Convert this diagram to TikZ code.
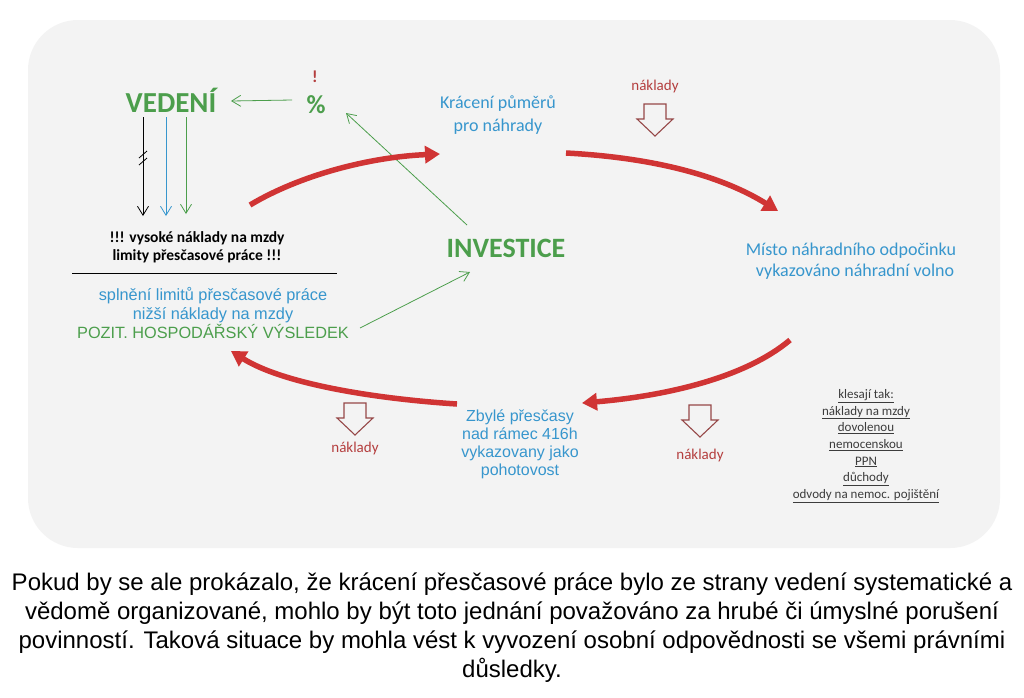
\documentclass[tikz,border=0pt]{standalone}
\usepackage{fontspec}
\setmainfont{Carlito}
\newfontfamily\arialf{Liberation Sans}
\usetikzlibrary{arrows.meta}
\definecolor{vgreen}{RGB}{76,158,76}
\definecolor{vblue}{RGB}{55,150,205}
\definecolor{vred}{RGB}{208,52,52}
\definecolor{nred}{RGB}{180,62,62}
\definecolor{hred}{RGB}{150,72,72}
\definecolor{panel}{RGB}{243,243,243}
\definecolor{listc}{RGB}{60,60,60}
\tikzset{
  redarrow/.style={draw=vred, line width=5.5pt, -{Triangle[length=15pt,width=17pt]}},
  thinarrow/.style={line width=0.8pt, -{Straight Barb[length=9pt,width=11pt]}},
  bluetext/.style={text=vblue, align=center},
  costlbl/.style={text=nred, font=\fontsize{15}{17}\selectfont},
  hollowdown/.pic={\draw[hred, line width=1.1pt, line join=miter]
     (-11,0) -- (11,0) -- (11,15) -- (18,15) -- (0,32) -- (-18,15) -- (-11,15) -- cycle;}
}
\begin{document}
\begin{tikzpicture}[x=1pt,y=-1pt]
\useasboundingbox (0,0) rectangle (1024,697);
\fill[white] (0,0) rectangle (1024,697);
\fill[panel, rounded corners=50pt] (28,20) rectangle (1000,548);

% --- left block
\node[text=vgreen, font=\bfseries\fontsize{29}{30}\selectfont] (ved) at (171,100) {VEDENÍ};
\node[text=nred, font=\bfseries\fontsize{17}{17}\selectfont] (excl) at (315,77) {!};
\node[text=vgreen, font=\bfseries\fontsize{26}{28}\selectfont] (pct) at (316,105) {\%};
\coordinate (g1s) at (292,100); \coordinate (g1e) at (231,101);
\draw[vgreen, thinarrow] (g1s) -- (g1e);

\coordinate (ka) at (143,117); \coordinate (kb) at (143,216);
\coordinate (ma) at (166,117); \coordinate (mb) at (166,216);
\coordinate (za) at (186,117); \coordinate (zb) at (186,214);
\draw[black, thinarrow] (ka) -- (kb);
\draw[vblue, thinarrow] (ma) -- (mb);
\draw[vgreen, thinarrow] (za) -- (zb);
\draw[black, line width=0.8pt] (139,158) -- (147,151) (139,165) -- (147,158);

\node[align=center, font=\bfseries\fontsize{15.5}{18}\selectfont] (vys) at (197,247)
  {!!! vysoké náklady na mzdy\\limity přesčasové práce !!!};
\coordinate (la) at (72,273); \coordinate (lb) at (337,273);
\draw[black, line width=0.9pt] (la) -- (lb);

\node[align=center, font=\arialf\fontsize{16.3}{18.5}\selectfont] (spl) at (213,313)
  {\textcolor{vblue}{splnění limitů přesčasové práce}\\
   \textcolor{vblue}{nižší náklady na mzdy}\\
   \textcolor{vgreen}{POZIT. HOSPODÁŘSKÝ VÝSLEDEK}};

% --- centre
\node[text=vgreen, font=\bfseries\fontsize{28}{30}\selectfont] (inv) at (506,248) {INVESTICE};
\coordinate (g2s) at (360,328); \coordinate (g2e) at (470,272);
\coordinate (g3s) at (467,225); \coordinate (g3e) at (346,113);
\draw[vgreen, thinarrow] (g2s) -- (g2e);
\draw[vgreen, thinarrow] (g3s) -- (g3e);

\node[bluetext, font=\fontsize{18}{23}\selectfont] (krac) at (498,115) {Krácení půměrů\\pro náhrady};
\node[bluetext, font=\fontsize{18}{21}\selectfont] (misto) at (851,261)
  {Místo náhradního odpočinku\\\hspace*{8pt}vykazováno náhradní volno};
\node[bluetext, font=\arialf\fontsize{16}{18}\selectfont] (zbyle) at (520,444)
  {Zbylé přesčasy\\nad rámec 416h\\vykazovany jako\\pohotovost};

% --- costs
\node[costlbl] (c1) at (655,86) {náklady};
\pic at (655,104) {hollowdown};
\pic at (355,403) {hollowdown};
\node[costlbl] (c2) at (355,448) {náklady};
\pic at (700,405) {hollowdown};
\node[costlbl] (c3) at (700,455) {náklady};

% --- red cycle
\coordinate (r1s) at (250,205); \coordinate (r1e) at (440,154);
\coordinate (r2s) at (566,153); \coordinate (r2e) at (778,211);
\coordinate (r3s) at (790,340); \coordinate (r3e) at (582,403);
\coordinate (r4s) at (457,404); \coordinate (r4e) at (231,351);
\draw[redarrow] (r1s) .. controls (300,175) and (370,157) .. (r1e);
\draw[redarrow] (r2s) .. controls (660,158) and (725,178) .. (r2e);
\draw[redarrow] (r3s) .. controls (745,378) and (665,396) .. (r3e);
\draw[redarrow] (r4s) .. controls (365,398) and (280,382) .. (r4e);

% --- list
\node[text=listc, align=center, font=\fontsize{13}{16.7}\selectfont] (list) at (866,446)
  {\underline{klesají tak:}\\\underline{náklady na mzdy}\\\underline{dovolenou}\\
   \underline{nemocenskou}\\\underline{PPN}\\\underline{důchody}\\
   \underline{odvody na nemoc. pojištění}};

% --- caption
\node[align=center, font=\arialf\fontsize{24}{29}\selectfont] (cap) at (512,628)
  {Pokud by se ale prokázalo, že krácení přesčasové práce bylo ze strany vedení systematické a\\
   vědomě organizované, mohlo by být toto jednání považováno za hrubé či úmyslné porušení\\
   povinností. Taková situace by mohla vést k vyvození osobní odpovědnosti se všemi právními\\
   důsledky.};
\end{tikzpicture}
\end{document}
